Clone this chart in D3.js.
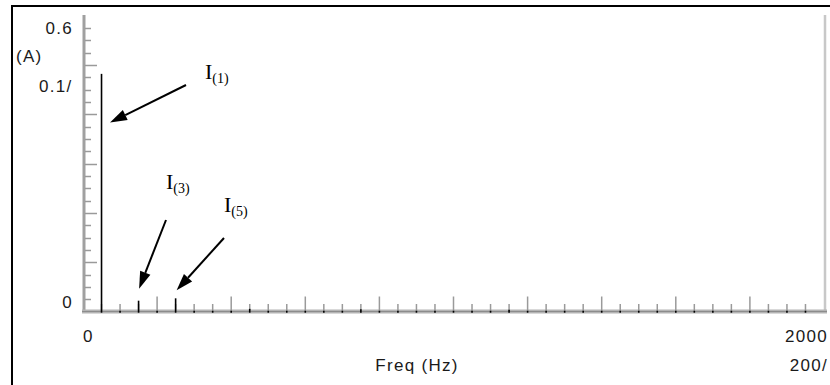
<!DOCTYPE html>
<html>
<head>
<meta charset="utf-8">
<script src="https://cdn.jsdelivr.net/npm/d3@7"></script>
<style>
  html, body { margin: 0; padding: 0; background: #fff; }
  svg { display: block; }
  .ax { font-family: "Liberation Sans", Arial, sans-serif; font-size: 17px; fill: #1a1a1a; letter-spacing: 1.3px; }
  .ann { font-family: "Liberation Serif", "Times New Roman", serif; fill: #000; }
</style>
</head>
<body>
<svg id="chart" width="830" height="385"></svg>
<script>
// Harmonic spectrum of the line current (50 Hz fundamental)
const freqHz = [50, 100, 150, 200, 250, 300, 350, 400, 450, 500,
                550, 600, 650, 700, 750, 800, 850, 900, 950, 1000,
                1050, 1100, 1150, 1200, 1250, 1300, 1350, 1400, 1450, 1500,
                1550, 1600, 1650, 1700, 1750, 1800, 1850, 1900, 1950];
const ampA   = [0.503, 0.002, 0.0233, 0.002, 0.0283, 0.002, 0.002, 0.002, 0.006, 0.002,
                0.002, 0.002, 0.002, 0.002, 0.005, 0.002, 0.002, 0.002, 0.002, 0.002,
                0.002, 0.002, 0.004, 0.002, 0.002, 0.002, 0.002, 0.002, 0.002, 0.002,
                0.002, 0.002, 0.002, 0.002, 0.002, 0.002, 0.002, 0.002, 0.002];

// Axis ranges and labels
const freqDomain = [0, 2000];
const ampDomain = [0, 0.6];
const yTickLabels = ["0.6", "0"];
const xTickLabels = ["0", "2000"];
const yUnitLabel = "(A)";
const yScaleNote = "0.1/";
const xScaleNote = "200/";
const xTitle = "Freq (Hz)";

// Annotated harmonics
const harmonicOrders = [1, 3, 5];

const svg = d3.select("#chart");

const x = d3.scaleLinear().domain(freqDomain).range([83, 824]);
const y = d3.scaleLinear().domain(ampDomain).range([311.7, 28]);

// outer frame (left and top edges)
svg.append("path")
  .attr("d", "M12,385 L12,6 L830,6")
  .attr("fill", "none").attr("stroke", "#000").attr("stroke-width", 2);

// right border of plot area
svg.append("line")
  .attr("x1", 825).attr("x2", 825).attr("y1", 15).attr("y2", 312)
  .attr("stroke", "#c8c8c8").attr("stroke-width", 2.5);

// y axis: 23 equal divisions, every 4th one long
const yDiv = (ampDomain[1] - ampDomain[0]) / 23;
const yTicks = d3.range(1, 24).map(i => ({ v: i * yDiv, major: i % 4 === 0 }));
const yAxisG = svg.append("g");
yAxisG.append("line")
  .attr("x1", 84).attr("x2", 84).attr("y1", 15).attr("y2", 313)
  .attr("stroke", "#a0a0a0").attr("stroke-width", 3);
yAxisG.selectAll("line.t").data(yTicks).join("line").attr("class", "t")
  .attr("x1", 85).attr("x2", d => d.major ? 97 : 91)
  .attr("y1", d => Math.round(y(d.v)) + 0.5).attr("y2", d => Math.round(y(d.v)) + 0.5)
  .attr("stroke", "#9a9a9a").attr("stroke-width", 1.5);

// x axis: tick every 50 Hz, long one every 200 Hz
const xTicks = d3.range(50, 2000, 50).map(f => ({ f, major: f % 200 === 0 }));
const xAxisG = svg.append("g");
xAxisG.append("line")
  .attr("x1", 82).attr("x2", 827).attr("y1", 311.5).attr("y2", 311.5)
  .attr("stroke", "#b4b4b4").attr("stroke-width", 4);
xAxisG.append("line")
  .attr("x1", 82).attr("x2", 827).attr("y1", 311.5).attr("y2", 311.5)
  .attr("stroke", "#8c8c8c").attr("stroke-width", 1);
xAxisG.selectAll("line.t").data(xTicks).join("line").attr("class", "t")
  .attr("x1", d => x(d.f)).attr("x2", d => x(d.f))
  .attr("y1", 311).attr("y2", d => d.major ? 296.5 : 304)
  .attr("stroke", "#9a9a9a").attr("stroke-width", 1.5);

// spectral lines
svg.append("g").selectAll("line").data(freqHz.map((f, i) => ({ f, a: ampA[i] }))).join("line")
  .attr("x1", d => x(d.f)).attr("x2", d => x(d.f))
  .attr("y1", y(0) + 1).attr("y2", d => y(d.a))
  .attr("stroke", "#000").attr("stroke-width", 1.6);

// axis text
svg.append("text").attr("class", "ax").attr("x", 73).attr("y", y(ampDomain[1]) + 6)
  .attr("text-anchor", "end").text(yTickLabels[0]);
svg.append("text").attr("class", "ax").attr("x", 16).attr("y", 62).text(yUnitLabel);
svg.append("text").attr("class", "ax").attr("x", 39).attr("y", 92).text(yScaleNote);
svg.append("text").attr("class", "ax").attr("x", 73).attr("y", 308)
  .attr("text-anchor", "end").text(yTickLabels[1]);
svg.append("text").attr("class", "ax").attr("x", x(freqDomain[0])).attr("y", 342).text(xTickLabels[0]);
svg.append("text").attr("class", "ax").attr("x", 828).attr("y", 342)
  .attr("text-anchor", "end").text(xTickLabels[1]);
svg.append("text").attr("class", "ax").attr("x", 828).attr("y", 371)
  .attr("text-anchor", "end").text(xScaleNote);
svg.append("text").attr("class", "ax").attr("x", 417).attr("y", 371)
  .attr("text-anchor", "middle").text(xTitle);

// harmonic annotations: arrow tips placed relative to each spectral line
const annLayout = {
  1: { tip: d => [x(d.f) + 8.5, y(0.4)],      tail: [186, 85],  label: [205, 79] },
  3: { tip: d => [x(d.f) + 0.5, y(d.a) - 12], tail: [166, 220], label: [166, 189] },
  5: { tip: d => [x(d.f) + 1,   y(d.a) - 8],  tail: [224, 238], label: [224, 212] }
};

function arrow(g, tail, tip) {
  const dx = tip[0] - tail[0], dy = tip[1] - tail[1];
  const len = Math.hypot(dx, dy), ux = dx / len, uy = dy / len;
  const headL = 17, headW = 5.5;
  const bx = tip[0] - ux * headL, by = tip[1] - uy * headL;
  g.append("line").attr("x1", tail[0]).attr("y1", tail[1]).attr("x2", bx).attr("y2", by)
    .attr("stroke", "#000").attr("stroke-width", 2);
  g.append("path")
    .attr("d", `M${tip[0]},${tip[1]} L${bx - uy * headW},${by + ux * headW} L${bx + uy * headW},${by - ux * headW} Z`)
    .attr("fill", "#000");
}

const annG = svg.append("g");
harmonicOrders.forEach(n => {
  const i = freqHz.indexOf(50 * n);
  const d = { f: freqHz[i], a: ampA[i] };
  const L = annLayout[n];
  arrow(annG, L.tail, L.tip(d));
  const t = annG.append("text").attr("class", "ann").attr("x", L.label[0]).attr("y", L.label[1]);
  t.append("tspan").attr("font-size", 22).text("I");
  t.append("tspan").attr("font-size", 14).attr("dy", 4).text(`(${n})`);
});
</script>
</body>
</html>
